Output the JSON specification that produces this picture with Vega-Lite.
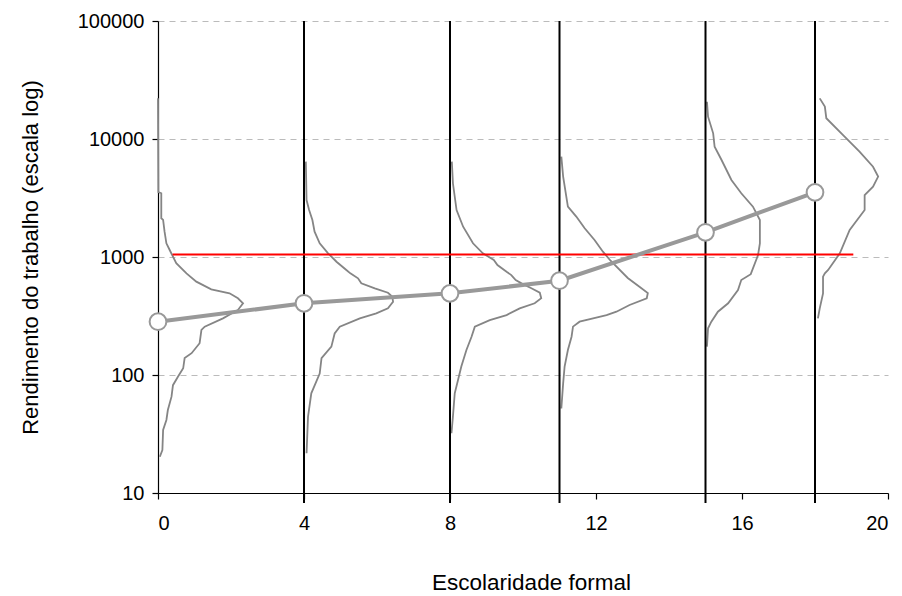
{
  "$schema": "https://vega.github.io/schema/vega-lite/v6.json",
  "width": 730,
  "height": 472,
  "autosize": {"type": "none"},
  "padding": {"left": 158, "top": 21, "right": 14, "bottom": 103},
  "background": "white",
  "config": {
    "font": "Liberation Sans",
    "view": {"stroke": null},
    "axis": {
      "labelFont": "Liberation Sans",
      "titleFont": "Liberation Sans",
      "labelFontSize": 20,
      "titleFontSize": 22,
      "titleFontWeight": "normal",
      "labelColor": "#000000",
      "titleColor": "#000000",
      "domainColor": "#000000",
      "tickColor": "#000000",
      "tickSize": 6,
      "domainWidth": 1.2,
      "tickWidth": 1.2
    }
  },
  "datasets": {
    "dens": [
      {"g": 1, "i": 0, "x": 0.0, "y": 22200},
      {"g": 1, "i": 1, "x": 0.01, "y": 3550},
      {"g": 1, "i": 2, "x": 0.09, "y": 3470},
      {"g": 1, "i": 3, "x": 0.09, "y": 2130},
      {"g": 1, "i": 4, "x": 0.14, "y": 2060},
      {"g": 1, "i": 5, "x": 0.18, "y": 1640},
      {"g": 1, "i": 6, "x": 0.23, "y": 1306},
      {"g": 1, "i": 7, "x": 0.32, "y": 1146},
      {"g": 1, "i": 8, "x": 0.41, "y": 1006},
      {"g": 1, "i": 9, "x": 0.5, "y": 885},
      {"g": 1, "i": 10, "x": 0.78, "y": 727},
      {"g": 1, "i": 11, "x": 1.05, "y": 618},
      {"g": 1, "i": 12, "x": 1.46, "y": 532},
      {"g": 1, "i": 13, "x": 1.96, "y": 492},
      {"g": 1, "i": 14, "x": 2.19, "y": 447},
      {"g": 1, "i": 15, "x": 2.33, "y": 405},
      {"g": 1, "i": 16, "x": 2.19, "y": 356},
      {"g": 1, "i": 17, "x": 1.78, "y": 302},
      {"g": 1, "i": 18, "x": 1.28, "y": 257},
      {"g": 1, "i": 19, "x": 1.19, "y": 241},
      {"g": 1, "i": 20, "x": 1.14, "y": 186},
      {"g": 1, "i": 21, "x": 0.92, "y": 153},
      {"g": 1, "i": 22, "x": 0.73, "y": 139},
      {"g": 1, "i": 23, "x": 0.69, "y": 114},
      {"g": 1, "i": 24, "x": 0.55, "y": 97},
      {"g": 1, "i": 25, "x": 0.41, "y": 82},
      {"g": 1, "i": 26, "x": 0.37, "y": 65.5},
      {"g": 1, "i": 27, "x": 0.27, "y": 50.5},
      {"g": 1, "i": 28, "x": 0.23, "y": 41.6},
      {"g": 1, "i": 29, "x": 0.14, "y": 34.2},
      {"g": 1, "i": 30, "x": 0.12, "y": 23.1},
      {"g": 1, "i": 31, "x": 0.05, "y": 20.3},

      {"g": 2, "i": 0, "x": 4.05, "y": 6430},
      {"g": 2, "i": 1, "x": 4.07, "y": 3040},
      {"g": 2, "i": 2, "x": 4.14, "y": 2500},
      {"g": 2, "i": 3, "x": 4.23, "y": 2060},
      {"g": 2, "i": 4, "x": 4.29, "y": 1640},
      {"g": 2, "i": 5, "x": 4.43, "y": 1306},
      {"g": 2, "i": 6, "x": 4.66, "y": 1075},
      {"g": 2, "i": 7, "x": 4.89, "y": 912},
      {"g": 2, "i": 8, "x": 5.16, "y": 776},
      {"g": 2, "i": 9, "x": 5.27, "y": 727},
      {"g": 2, "i": 10, "x": 5.48, "y": 660},
      {"g": 2, "i": 11, "x": 5.57, "y": 598},
      {"g": 2, "i": 12, "x": 5.94, "y": 543},
      {"g": 2, "i": 13, "x": 6.3, "y": 498},
      {"g": 2, "i": 14, "x": 6.42, "y": 461},
      {"g": 2, "i": 15, "x": 6.44, "y": 418},
      {"g": 2, "i": 16, "x": 6.3, "y": 367},
      {"g": 2, "i": 17, "x": 5.98, "y": 333},
      {"g": 2, "i": 18, "x": 5.53, "y": 302},
      {"g": 2, "i": 19, "x": 4.98, "y": 257},
      {"g": 2, "i": 20, "x": 4.84, "y": 225},
      {"g": 2, "i": 21, "x": 4.75, "y": 174},
      {"g": 2, "i": 22, "x": 4.48, "y": 139},
      {"g": 2, "i": 23, "x": 4.43, "y": 103},
      {"g": 2, "i": 24, "x": 4.2, "y": 70},
      {"g": 2, "i": 25, "x": 4.11, "y": 44.3},
      {"g": 2, "i": 26, "x": 4.07, "y": 21.7},

      {"g": 3, "i": 0, "x": 8.05, "y": 6430},
      {"g": 3, "i": 1, "x": 8.08, "y": 4214},
      {"g": 3, "i": 2, "x": 8.18, "y": 2502},
      {"g": 3, "i": 3, "x": 8.36, "y": 1806},
      {"g": 3, "i": 4, "x": 8.63, "y": 1306},
      {"g": 3, "i": 5, "x": 8.9, "y": 1075},
      {"g": 3, "i": 6, "x": 9.2, "y": 944},
      {"g": 3, "i": 7, "x": 9.3, "y": 855},
      {"g": 3, "i": 8, "x": 9.55, "y": 750},
      {"g": 3, "i": 9, "x": 9.68, "y": 703},
      {"g": 3, "i": 10, "x": 9.8, "y": 638},
      {"g": 3, "i": 11, "x": 9.96, "y": 598},
      {"g": 3, "i": 12, "x": 10.23, "y": 543},
      {"g": 3, "i": 13, "x": 10.46, "y": 498},
      {"g": 3, "i": 14, "x": 10.5, "y": 447},
      {"g": 3, "i": 15, "x": 10.32, "y": 405},
      {"g": 3, "i": 16, "x": 9.91, "y": 367},
      {"g": 3, "i": 17, "x": 9.55, "y": 322},
      {"g": 3, "i": 18, "x": 9.09, "y": 292},
      {"g": 3, "i": 19, "x": 8.68, "y": 257},
      {"g": 3, "i": 20, "x": 8.59, "y": 211},
      {"g": 3, "i": 21, "x": 8.45, "y": 163},
      {"g": 3, "i": 22, "x": 8.31, "y": 118},
      {"g": 3, "i": 23, "x": 8.22, "y": 90.7},
      {"g": 3, "i": 24, "x": 8.13, "y": 70},
      {"g": 3, "i": 25, "x": 8.08, "y": 44.3},
      {"g": 3, "i": 26, "x": 8.04, "y": 32.1},

      {"g": 4, "i": 0, "x": 11.05, "y": 7080},
      {"g": 4, "i": 1, "x": 11.1, "y": 4800},
      {"g": 4, "i": 2, "x": 11.23, "y": 2670},
      {"g": 4, "i": 3, "x": 11.46, "y": 2200},
      {"g": 4, "i": 4, "x": 11.69, "y": 1750},
      {"g": 4, "i": 5, "x": 11.96, "y": 1393},
      {"g": 4, "i": 6, "x": 12.19, "y": 1109},
      {"g": 4, "i": 7, "x": 12.4, "y": 930},
      {"g": 4, "i": 8, "x": 12.87, "y": 664},
      {"g": 4, "i": 9, "x": 13.2, "y": 557},
      {"g": 4, "i": 10, "x": 13.42, "y": 495},
      {"g": 4, "i": 11, "x": 13.39, "y": 447},
      {"g": 4, "i": 12, "x": 12.92, "y": 392},
      {"g": 4, "i": 13, "x": 12.56, "y": 344},
      {"g": 4, "i": 14, "x": 12.29, "y": 322},
      {"g": 4, "i": 15, "x": 11.92, "y": 302},
      {"g": 4, "i": 16, "x": 11.55, "y": 283},
      {"g": 4, "i": 17, "x": 11.37, "y": 257},
      {"g": 4, "i": 18, "x": 11.33, "y": 211},
      {"g": 4, "i": 19, "x": 11.23, "y": 163},
      {"g": 4, "i": 20, "x": 11.14, "y": 118},
      {"g": 4, "i": 21, "x": 11.1, "y": 85},
      {"g": 4, "i": 22, "x": 11.05, "y": 52},

      {"g": 5, "i": 0, "x": 15.04, "y": 20700},
      {"g": 5, "i": 1, "x": 15.07, "y": 15450},
      {"g": 5, "i": 2, "x": 15.21, "y": 11170},
      {"g": 5, "i": 3, "x": 15.25, "y": 8600},
      {"g": 5, "i": 4, "x": 15.44, "y": 6640},
      {"g": 5, "i": 5, "x": 15.71, "y": 4500},
      {"g": 5, "i": 6, "x": 15.98, "y": 3470},
      {"g": 5, "i": 7, "x": 16.3, "y": 2670},
      {"g": 5, "i": 8, "x": 16.49, "y": 2060},
      {"g": 5, "i": 9, "x": 16.49, "y": 1306},
      {"g": 5, "i": 10, "x": 16.44, "y": 1040},
      {"g": 5, "i": 11, "x": 16.24, "y": 715},
      {"g": 5, "i": 12, "x": 15.98, "y": 638},
      {"g": 5, "i": 13, "x": 15.89, "y": 525},
      {"g": 5, "i": 14, "x": 15.62, "y": 405},
      {"g": 5, "i": 15, "x": 15.34, "y": 344},
      {"g": 5, "i": 16, "x": 15.16, "y": 283},
      {"g": 5, "i": 17, "x": 15.07, "y": 249},
      {"g": 5, "i": 18, "x": 15.04, "y": 174},

      {"g": 6, "i": 0, "x": 18.13, "y": 22100},
      {"g": 6, "i": 1, "x": 18.27, "y": 18800},
      {"g": 6, "i": 2, "x": 18.31, "y": 15000},
      {"g": 6, "i": 3, "x": 18.77, "y": 10800},
      {"g": 6, "i": 4, "x": 19.22, "y": 7800},
      {"g": 6, "i": 5, "x": 19.59, "y": 5820},
      {"g": 6, "i": 6, "x": 19.73, "y": 4800},
      {"g": 6, "i": 7, "x": 19.59, "y": 3940},
      {"g": 6, "i": 8, "x": 19.36, "y": 3350},
      {"g": 6, "i": 9, "x": 19.36, "y": 2500},
      {"g": 6, "i": 10, "x": 18.95, "y": 1694},
      {"g": 6, "i": 11, "x": 18.68, "y": 1075},
      {"g": 6, "i": 12, "x": 18.36, "y": 776},
      {"g": 6, "i": 13, "x": 18.27, "y": 727},
      {"g": 6, "i": 14, "x": 18.22, "y": 681},
      {"g": 6, "i": 15, "x": 18.22, "y": 492},
      {"g": 6, "i": 16, "x": 18.13, "y": 367},
      {"g": 6, "i": 17, "x": 18.08, "y": 302}
    ],
    "mean": [
      {"x": 0, "y": 283},
      {"x": 4, "y": 405},
      {"x": 8, "y": 492},
      {"x": 11, "y": 630},
      {"x": 15, "y": 1620},
      {"x": 18, "y": 3530}
    ],
    "vlines": [
      {"x": 4, "ylo": 8.23, "yhi": 100000},
      {"x": 8, "ylo": 8.23, "yhi": 100000},
      {"x": 11, "ylo": 8.23, "yhi": 100000},
      {"x": 15, "ylo": 8.23, "yhi": 100000},
      {"x": 18, "ylo": 8.23, "yhi": 100000}
    ],
    "ref": [
      {"x1": 0.4, "x2": 19.05, "y": 1050}
    ]
  },
  "layer": [
    {
      "data": {"name": "dens"},
      "mark": {"type": "line", "color": "#858585", "strokeWidth": 1.8, "interpolate": "linear"},
      "encoding": {
        "x": {
          "field": "x", "type": "quantitative",
          "scale": {"domain": [0, 20], "nice": false, "zero": false},
          "axis": {
            "values": [0, 4, 8, 12, 16, 20],
            "grid": false,
            "labelPadding": 14,
            "title": "Escolaridade formal",
            "titleFontSize": 22.5,
            "titleX": 373,
            "titleY": 89,
            "titleBaseline": "middle",
            "titleAlign": "center"
          }
        },
        "y": {
          "field": "y", "type": "quantitative",
          "scale": {"type": "log", "domain": [10, 100000], "nice": false},
          "axis": {
            "values": [10, 100, 1000, 10000, 100000],
            "format": "d",
            "grid": true,
            "gridDash": [6, 5],
            "gridColor": "#bbbbbb",
            "gridWidth": 1,
            "labelPadding": 8,
            "title": "Rendimento do trabalho (escala log)",
            "titleX": -128,
            "titleY": 236,
            "titleAngle": -90,
            "titleBaseline": "middle",
            "titleAlign": "center"
          }
        },
        "detail": {"field": "g", "type": "nominal"},
        "order": {"field": "i", "type": "quantitative"}
      }
    },
    {
      "data": {"name": "vlines"},
      "mark": {"type": "rule", "color": "#000000", "strokeWidth": 2},
      "encoding": {
        "x": {"field": "x", "type": "quantitative"},
        "y": {"field": "ylo", "type": "quantitative"},
        "y2": {"field": "yhi"}
      }
    },
    {
      "data": {"name": "ref"},
      "mark": {"type": "rule", "color": "#ff0000", "strokeWidth": 2},
      "encoding": {
        "x": {"field": "x1", "type": "quantitative"},
        "x2": {"field": "x2"},
        "y": {"field": "y", "type": "quantitative"}
      }
    },
    {
      "data": {"name": "mean"},
      "mark": {"type": "line", "color": "#999999", "strokeWidth": 4},
      "encoding": {
        "x": {"field": "x", "type": "quantitative"},
        "y": {"field": "y", "type": "quantitative"}
      }
    },
    {
      "data": {"name": "mean"},
      "mark": {"type": "point", "filled": true, "fill": "#ffffff", "stroke": "#999999", "strokeWidth": 2, "size": 280, "opacity": 1},
      "encoding": {
        "x": {"field": "x", "type": "quantitative"},
        "y": {"field": "y", "type": "quantitative"}
      }
    }
  ]
}
